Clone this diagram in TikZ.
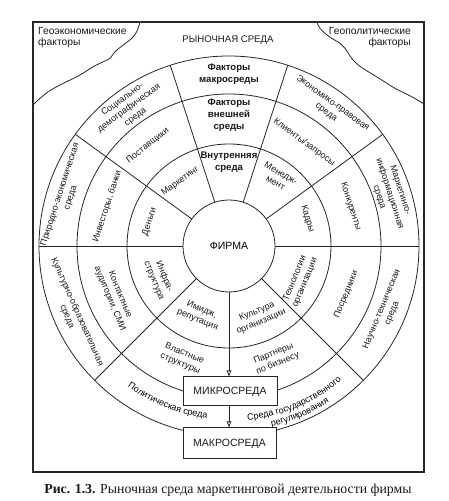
\documentclass[tikz,border=0pt]{standalone}
\usepackage{fontspec}
\setmainfont{Liberation Serif}
\setsansfont{Liberation Sans}
\usetikzlibrary{arrows.meta,calc,decorations.text}
\begin{document}
\begin{tikzpicture}[x=1pt,y=1pt,
  ln/.style={line width=0.8pt, draw=black!85},
  frm/.style={line width=1.1pt, draw=black!85},
  lbl/.style={font=\sffamily\fontsize{9}{11}\selectfont, align=center, inner sep=0pt, text=black!90},
  blbl/.style={font=\sffamily\bfseries\fontsize{9.6}{11.8}\selectfont, align=center, inner sep=0pt, text=black!90},
  boxn/.style={draw=black!85, line width=1pt, fill=white, inner sep=0pt, font=\sffamily\fontsize{10.5}{12}\selectfont, text=black!90},
  arr/.style={ln, -{Triangle[open, width=4.5pt, length=6pt]}},
]
\useasboundingbox (0,0) rectangle (449,501);
\coordinate (C) at (229,255);

% frame
\draw[frm] (33,29) rectangle (424,479);
% corner curves
\draw[ln] plot[smooth, tension=0.6] coordinates {(140,479) (136.7,469.3) (131.7,462.7) (123.3,456) (115,449.3) (110,442.7) (103.3,439.3) (93.3,434.3) (80,426) (66.7,419.3) (56.7,414.3) (48.3,409.3) (40,402.7) (33,396)};
\draw[ln] plot[smooth, tension=0.6] coordinates {(316.7,479) (320,472.7) (325,467.7) (331.7,462.7) (340,457.7) (345,452.7) (351.7,442.7) (358.3,436) (368.3,429.3) (381.7,421) (395,412.7) (411.7,404.3) (424,397)};
\node[lbl, font=\sffamily\fontsize{10.3}{11.5}\selectfont, align=left, anchor=north west] (geoec) at (38,474) {Геоэкономические\\факторы};
\node[lbl, font=\sffamily\fontsize{10.3}{11.5}\selectfont, align=right, anchor=north east] (geopol) at (411,474) {Геополитические\\факторы};
\node[lbl, font=\sffamily\fontsize{9.6}{11}\selectfont] (market) at (228,461) {РЫНОЧНАЯ СРЕДА};

% circles
\draw[ln] (C) circle[radius=190pt];
\draw[ln] (C) circle[radius=152pt];
\draw[ln] (C) circle[radius=102pt];
\node[draw=black!85, line width=0.8pt, circle, minimum size=92pt, inner sep=0pt, font=\sffamily\fontsize{10.5}{12}\selectfont] (firma) at (C) {ФИРМА};

% spokes
\foreach \a in {0,36,72,108,144,180,225,315}
  \draw[ln] ($(C)+(\a:46pt)$) -- ($(C)+(\a:190pt)$);

% boxes
\node[boxn, minimum width=94pt, minimum height=29pt] (mikro) at (230,109.5) {МИКРОСРЕДА};
\node[boxn, minimum width=93pt, minimum height=31pt] (makro) at (229.5,57.5) {МАКРОСРЕДА};
\draw[arr] (firma.south) -- (firma.south |- mikro.north);
\draw[arr] (firma.south |- mikro.south) -- (firma.south |- makro.north);

% top labels
\node[blbl] (fmakro) at (229,427) {Факторы\\макросреды};
\node[blbl] (fvnesh) at (229,386) {Факторы\\внешней\\среды};
\node[blbl] (fvnutr) at (229,339) {Внутренняя\\среда};

% outer ring
\node[lbl, rotate=36] (o1) at ($(C)+(126:170pt)$) {Социально-\\демографическая\\среда};
\node[lbl, rotate=-36] (o2) at ($(C)+(54:171pt)$) {Экономико-правовая\\среда};
\node[lbl, rotate=72] (o3) at ($(C)+(163:171pt)$) {Природно-экономическая\\среда};
\node[lbl, rotate=-72] (o4) at ($(C)+(18:169pt)$) {Маркетинго-\\информационная\\среда};
\node[lbl, rotate=-66] (o5) at ($(C)+(203.5:171pt)$) {Культурно-образовательная\\среда};
\node[lbl, rotate=67.5] (o6) at ($(C)+(337.5:171pt)$) {Научно-техническая\\среда};
\path[decorate, decoration={text along path, text align=center,
  text={|\sffamily\fontsize{9}{10}\selectfont|Политическая среда}}]
  ($(C)+(228:173.5pt)$) arc[start angle=228, end angle=269, radius=173.5pt];
\path[decorate, decoration={text along path, text align=center,
  text={|\sffamily\fontsize{9}{10}\selectfont|Среда государственного}}]
  ($(C)+(273:175.5pt)$) arc[start angle=273, end angle=313, radius=175.5pt];
\path[decorate, decoration={text along path, text align=center,
  text={|\sffamily\fontsize{9}{10}\selectfont|регулирования}}]
  ($(C)+(273:185.5pt)$) arc[start angle=273, end angle=313, radius=185.5pt];

% middle ring
\node[lbl, rotate=38] (m1) at ($(C)+(129:129pt)$) {Поставщики};
\node[lbl, rotate=72] (m2) at ($(C)+(162:128pt)$) {Инвесторы, банки};
\node[lbl, rotate=-36] (m3) at ($(C)+(54:128pt)$) {Клиенты/запросы};
\node[lbl, rotate=-72] (m4) at ($(C)+(18:128pt)$) {Конкуренты};
\node[lbl, rotate=-67.5] (m5) at ($(C)+(204:125pt)$) {Контактные\\аудитории, СМИ};
\node[lbl, rotate=-22.5] (m6) at ($(C)+(247.5:122pt)$) {Властные\\структуры};
\node[lbl, rotate=22.5] (m7) at ($(C)+(292.5:122pt)$) {Партнеры\\по бизнесу};
\node[lbl, rotate=67.5] (m8) at ($(C)+(337.5:127pt)$) {Посредники};

% inner ring
\node[lbl, rotate=36] (i1) at ($(C)+(127:81pt)$) {Маркетинг};
\node[lbl, rotate=72] (i2) at ($(C)+(163:83pt)$) {Деньги};
\node[lbl, rotate=-30] (i3) at ($(C)+(54:84pt)$) {Менедж-\\мент};
\node[lbl, rotate=-72] (i4) at ($(C)+(19:83pt)$) {Кадры};
\node[lbl, rotate=-67.5] (i5) at ($(C)+(205:77pt)$) {Инфра-\\структура};
\node[lbl, rotate=-22.5] (i6) at ($(C)+(247:75pt)$) {Имидж,\\репутация};
\node[lbl, rotate=22.5] (i7) at ($(C)+(293:77pt)$) {Культура\\организации};
\node[lbl, rotate=67.5] (i8) at ($(C)+(334:79pt)$) {Технологии\\организации};

% caption
\node[inner sep=0pt, font=\fontsize{13.8}{16}\selectfont, text=black!90] (cap) at (228,11) {\textbf{Рис. 1.3.} Рыночная среда маркетинговой деятельности фирмы};
\end{tikzpicture}
\end{document}
